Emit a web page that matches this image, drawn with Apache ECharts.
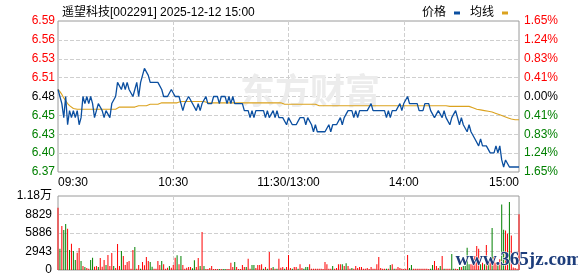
<!DOCTYPE html>
<html><head><meta charset="utf-8">
<script src="https://cdn.jsdelivr.net/npm/echarts@6/dist/echarts.min.js"></script>
<style>html,body{margin:0;padding:0;background:#fff}#c{width:578px;height:276px}</style>
</head><body><div id="c"></div>
<script>
const titleText = '遥望科技[002291] 2025-12-12 15:00';
const legendNames = ['价格', '均线'];
const timeLabels = ['09:30', '10:30', '11:30/13:00', '14:00', '15:00'];
const preClose = 6.48;
const priceAxisMin = 6.3729;
const priceAxisStep = 0.02678;
const volAxisStep = 2943;

const prices = [
6.49,6.49,6.47,6.45,6.48,6.44,6.46,6.45,6.46,6.45,
6.46,6.44,6.45,6.48,6.47,6.48,6.47,6.48,6.47,6.45,
6.46,6.47,6.47,6.46,6.45,6.46,6.46,6.45,6.47,6.47,
6.48,6.50,6.50,6.49,6.50,6.49,6.50,6.49,6.49,6.48,
6.49,6.50,6.48,6.50,6.51,6.52,6.52,6.51,6.50,6.50,
6.50,6.50,6.50,6.50,6.49,6.48,6.48,6.48,6.48,6.49,
6.49,6.48,6.48,6.48,6.47,6.46,6.47,6.47,6.48,6.48,
6.47,6.47,6.46,6.47,6.46,6.47,6.47,6.48,6.47,6.47,
6.47,6.48,6.48,6.48,6.47,6.48,6.48,6.48,6.47,6.48,
6.47,6.48,6.47,6.47,6.47,6.47,6.47,6.46,6.46,6.46,
6.45,6.46,6.45,6.46,6.46,6.46,6.46,6.46,6.45,6.46,
6.45,6.45,6.46,6.45,6.46,6.45,6.45,6.45,6.45,6.44,
6.45,6.45,6.44,6.44,6.44,6.44,6.45,6.45,6.45,6.44,
6.45,6.45,6.44,6.43,6.44,6.43,6.43,6.43,6.43,6.43,
6.43,6.44,6.43,6.44,6.44,6.44,6.44,6.45,6.44,6.45,
6.45,6.46,6.46,6.46,6.45,6.46,6.45,6.46,6.46,6.46,
6.46,6.46,6.46,6.47,6.46,6.46,6.46,6.46,6.46,6.46,
6.46,6.45,6.46,6.45,6.46,6.46,6.46,6.46,6.47,6.46,
6.47,6.47,6.48,6.47,6.47,6.47,6.47,6.47,6.46,6.46,
6.46,6.47,6.47,6.47,6.46,6.46,6.45,6.45,6.46,6.46,
6.45,6.46,6.45,6.45,6.44,6.45,6.45,6.46,6.45,6.44,
6.45,6.44,6.44,6.43,6.44,6.43,6.43,6.42,6.42,6.41,
6.42,6.41,6.41,6.41,6.41,6.40,6.40,6.40,6.41,6.40,
6.41,6.39,6.38,6.39,6.39,6.38,6.38,6.38,6.38,6.38,
6.38
];

const avgPrices = [
6.490,6.487,6.483,6.478,6.474,6.470,6.467,6.465,6.463,6.462,
6.462,6.462,6.462,6.462,6.462,6.462,6.462,6.462,6.462,6.462,
6.462,6.462,6.462,6.462,6.462,6.462,6.462,6.462,6.462,6.462,
6.462,6.463,6.465,6.465,6.465,6.465,6.465,6.465,6.465,6.465,
6.465,6.467,6.467,6.467,6.467,6.467,6.467,6.469,6.469,6.469,
6.469,6.469,6.469,6.469,6.471,6.471,6.471,6.471,6.471,6.471,
6.471,6.471,6.471,6.473,6.473,6.473,6.473,6.473,6.473,6.473,
6.473,6.473,6.473,6.473,6.473,6.473,6.473,6.473,6.471,6.471,
6.471,6.471,6.471,6.471,6.471,6.471,6.471,6.471,6.471,6.471,
6.471,6.471,6.471,6.471,6.471,6.471,6.471,6.471,6.471,6.471,
6.471,6.471,6.471,6.471,6.471,6.471,6.471,6.471,6.471,6.471,
6.471,6.471,6.471,6.471,6.471,6.471,6.471,6.469,6.469,6.469,
6.469,6.469,6.469,6.469,6.469,6.469,6.469,6.469,6.469,6.469,
6.469,6.469,6.469,6.469,6.469,6.469,6.467,6.467,6.467,6.467,
6.467,6.467,6.467,6.467,6.467,6.467,6.467,6.467,6.467,6.467,
6.467,6.467,6.467,6.467,6.467,6.467,6.467,6.467,6.467,6.467,
6.467,6.467,6.467,6.467,6.467,6.467,6.467,6.467,6.467,6.467,
6.467,6.467,6.467,6.467,6.467,6.467,6.467,6.467,6.467,6.467,
6.467,6.467,6.467,6.467,6.467,6.467,6.467,6.467,6.467,6.467,
6.467,6.467,6.467,6.467,6.467,6.467,6.467,6.467,6.467,6.467,
6.467,6.467,6.467,6.467,6.466,6.466,6.466,6.466,6.466,6.466,
6.466,6.466,6.466,6.466,6.466,6.465,6.464,6.463,6.462,6.461,
6.461,6.460,6.460,6.459,6.459,6.458,6.458,6.457,6.456,6.455,
6.454,6.453,6.452,6.451,6.450,6.449,6.448,6.448,6.447,6.447,
6.447
];

const volumes = [
9911,3392,6996,6360,7314,6572,3180,4187,3021,1590,
2756,3498,1431,636,477,318,212,1590,1961,530,
636,477,1908,530,1590,795,2385,636,2703,636,
318,4134,636,3021,2226,795,1272,1431,212,3180,
3657,212,795,212,1272,742,2067,1431,1272,530,
212,212,1431,795,1431,901,212,371,636,371,
795,1961,2332,901,2226,795,212,371,477,477,
265,1537,477,1908,636,6042,636,159,159,318,
636,159,159,159,159,159,159,159,159,159,
1166,477,1272,477,159,159,795,477,477,1802,
212,795,795,318,795,795,901,212,477,212,
2862,318,477,212,212,1802,371,477,212,477,
2385,318,212,477,477,212,901,318,212,477,
477,901,212,212,212,212,212,212,159,1272,
901,212,212,636,212,318,901,901,901,636,
1060,636,212,318,212,636,318,477,477,212,
212,318,159,477,212,212,901,2067,318,212,
212,212,212,795,901,212,212,477,318,212,
159,212,2385,318,795,212,212,212,212,212,
212,212,212,159,212,795,1431,636,318,636,
2226,212,212,212,212,2544,212,212,159,477,
477,636,636,3551,901,901,1431,2226,3816,3392,
901,1166,901,3975,1431,1802,6678,2120,1166,1007,
1696,10400,6400,6300,5800,10800,5500,400,300,200,
8850
];

// 1 = up (red), 0 = down (green)
const volUp = [
1,0,1,0,0,1,0,1,0,0,
1,1,0,1,0,1,1,0,0,1,
1,0,1,1,1,0,1,1,1,0,
1,1,1,0,1,1,1,1,1,1,
0,1,1,0,1,1,1,1,0,0,
1,1,1,1,0,1,1,1,0,1,
1,1,0,1,0,1,1,1,1,1,
0,0,1,1,0,1,0,1,1,1,
1,1,1,1,0,1,0,0,1,1,
1,1,0,1,1,1,1,1,0,1,
1,0,0,1,1,1,1,0,1,0,
1,1,0,1,0,1,1,1,0,1,
1,1,0,1,1,0,1,1,0,0,
0,1,1,1,1,1,1,1,1,1,
1,1,1,0,1,1,1,1,0,1,
0,1,1,0,1,1,1,1,1,1,
1,1,1,1,1,1,1,1,1,1,
1,0,1,0,1,0,1,1,1,1,
1,1,1,0,0,1,1,1,1,1,
1,1,1,1,0,0,1,1,1,0,
1,0,1,1,1,0,0,1,1,0,
1,0,0,0,0,1,1,1,1,1,
0,1,0,1,0,1,0,1,1,0,
1,0,0,1,1,0,1,1,1,1,
1
];

const FONT = '"Liberation Sans", "Noto Sans CJK SC", sans-serif';
const RED = '#ff0000', GREEN = '#008000', BLUE = '#0b4fa0', GOLD = '#dba21e';
const priceAxisMax = priceAxisMin + 8 * priceAxisStep;
const lastIdx = prices.length - 1;
const xStep = lastIdx / (timeLabels.length - 1);
const colorFor = v => Math.abs(Number(v) - preClose) < 0.001 ? '#000' : (Number(v) > preClose ? RED : GREEN);
const dashed = { show: true, showMinLine: false, showMaxLine: false, lineStyle: { type: [4, 2], color: '#cfcfcf', width: 1 } };

const chart = echarts.init(document.getElementById('c'), null, { renderer: 'canvas' });
chart.setOption({
  animation: false,
  backgroundColor: '#fff',
  textStyle: { fontFamily: FONT },
  title: {
    text: titleText, left: 57, top: 2,
    textStyle: { fontSize: 12, fontWeight: 'normal', color: '#000', fontFamily: FONT }
  },
  legend: {
    data: legendNames, right: 65, top: 2, align: 'right', icon: 'rect',
    itemWidth: 6, itemHeight: 3, itemGap: 10, selectedMode: false,
    textStyle: { fontSize: 12, color: '#000', fontFamily: FONT, padding: [0, 3, 0, 0] }
  },
  grid: [
    { left: 58, top: 21, width: 461, height: 151, show: true, borderColor: '#9a9a9a', borderWidth: 1, backgroundColor: 'transparent' },
    { left: 58, top: 196, width: 461, height: 74, show: true, borderColor: '#9a9a9a', borderWidth: 1, backgroundColor: 'transparent' }
  ],
  xAxis: [
    { gridIndex: 0, type: 'value', min: 0, max: lastIdx, interval: xStep,
      axisLine: { show: false }, axisTick: { show: false },
      axisLabel: { formatter: v => timeLabels[Math.round(v / xStep)], fontSize: 12, color: '#000', margin: 5,
        alignMinLabel: 'left', alignMaxLabel: 'right', fontFamily: FONT },
      splitLine: dashed },
    { gridIndex: 1, type: 'value', min: 0, max: lastIdx, interval: xStep,
      axisLine: { show: false }, axisTick: { show: false }, axisLabel: { show: false },
      splitLine: dashed }
  ],
  yAxis: [
    { gridIndex: 0, type: 'value', position: 'left', min: priceAxisMin, max: priceAxisMax, interval: priceAxisStep,
      axisLine: { show: false }, axisTick: { show: false },
      axisLabel: { formatter: v => Number(v).toFixed(2), color: colorFor, fontSize: 12, margin: 3, fontFamily: FONT },
      splitLine: dashed },
    { gridIndex: 0, type: 'value', position: 'right', min: priceAxisMin, max: priceAxisMax, interval: priceAxisStep,
      axisLine: { show: false }, axisTick: { show: false },
      axisLabel: { formatter: v => (Math.abs(Number(v) - preClose) / preClose * 100).toFixed(2) + '%',
        color: colorFor, fontSize: 12, margin: 5, fontFamily: FONT },
      splitLine: { show: false } },
    { gridIndex: 1, type: 'value', min: 0, max: volAxisStep * 4, interval: volAxisStep,
      axisLine: { show: false }, axisTick: { show: false },
      axisLabel: { formatter: v => v >= 10000 ? (v / 10000).toFixed(2) + '万' : String(v),
        color: '#000', fontSize: 12, margin: 6, fontFamily: FONT },
      splitLine: dashed }
  ],
  graphic: [
    { type: 'text', left: 240, top: 73, z: 1, silent: true,
      style: { text: '东方财富', font: 'bold 35px "Noto Sans CJK SC"', fill: '#ececec' } },
    { type: 'text', left: 455, top: 250, z: 100, silent: true,
      style: { text: 'www.365jz.com', font: 'bold 19px "Liberation Serif"', fill: '#1d3d7b', stroke: '#ffffff', lineWidth: 1 } }
  ],
  series: [
    { name: legendNames[0], type: 'line', xAxisIndex: 0, yAxisIndex: 0, showSymbol: false, silent: true, z: 4,
      color: BLUE, lineStyle: { color: BLUE, width: 1.3 },
      data: prices.map((p, i) => [i, p]) },
    { name: legendNames[1], type: 'line', xAxisIndex: 0, yAxisIndex: 0, showSymbol: false, silent: true, z: 3,
      color: GOLD, lineStyle: { color: GOLD, width: 1.1 },
      data: avgPrices.map((p, i) => [i, p]) },
    { name: 'vol', type: 'bar', xAxisIndex: 1, yAxisIndex: 2, barWidth: 1, silent: true,
      data: volumes.map((v, i) => ({ value: [i, v], itemStyle: { color: volUp[i] ? RED : GREEN } })) }
  ]
});
</script></body></html>
